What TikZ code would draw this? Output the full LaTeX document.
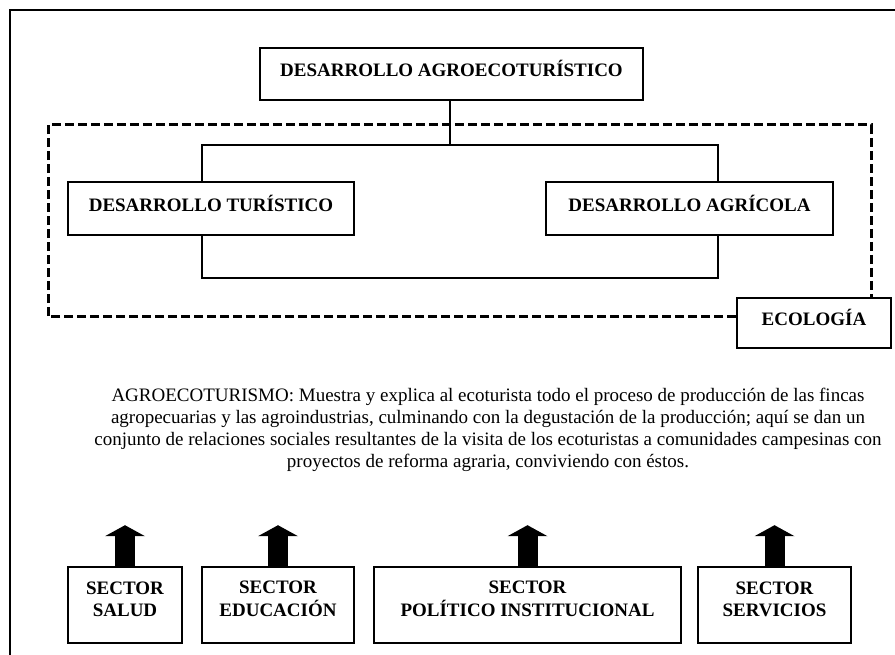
\documentclass[tikz,border=0pt]{standalone}
\usepackage{fontspec}
\setmainfont{Liberation Serif}
\usetikzlibrary{arrows.meta,calc}
\newcommand\twolines[2]{\raisebox{4pt}[\height][\depth]{\begin{tabular}{@{}c@{}}#1\\#2\end{tabular}}}
\begin{document}
\begin{tikzpicture}[x=1pt,y=-1pt,
  frame/.style={line width=2.2pt},
  box/.style={draw, line width=1.6pt, inner sep=0pt, align=center,
    font=\fontsize{19}{22}\selectfont\bfseries},
  onebox/.style={box, text height=14pt, text depth=8pt},
  link/.style={line width=1.6pt},
  zone/.style={line width=3pt, dash pattern=on 9pt off 4pt},
  uparrow/.style={line width=20pt, -{Triangle[width=40pt,length=11pt,line width'=0pt]}},
  para/.style={align=center, inner sep=0pt, font=\fontsize{19}{22}\selectfont}]
\useasboundingbox (0,0) rectangle (895,655);
\draw[frame] (10,700) -- (10,10) -- (950,10);

\node[onebox, minimum width=383pt, minimum height=52pt] (top) at (451.5,74) {DESARROLLO AGROECOTURÍSTICO};
\node[onebox, minimum width=286pt, minimum height=53pt] (tur) at (211,208.5) {DESARROLLO TURÍSTICO};
\node[onebox, minimum width=287pt, minimum height=53pt] (agr) at (689.5,208.5) {DESARROLLO AGRÍCOLA};
\node[onebox, minimum width=154pt, minimum height=50pt] (eco) at (814,323) {ECOLOGÍA};

\coordinate (j1) at (450,145);
\coordinate (j2) at (450,278);
\coordinate (L) at (202,0);
\coordinate (R) at (718,0);

\draw[link] (top.south -| j1) -- (j1);
\draw[link] (tur.north -| L) |- (j1 -| R) -- (agr.north -| R);
\draw[link] (tur.south -| L) |- (j2 -| R) -- (agr.south -| R);

\draw[zone] (eco.west |- 0,317) -- (48,317) -- (48,125) -- (871,125) -- (eco.north -| 871,0);

\node[para] (txt) at (488,430) {AGROECOTURISMO: Muestra y explica al ecoturista todo el proceso de producción de las fincas\\
agropecuarias y las agroindustrias, culminando con la degustación de la producción; aquí se dan un\\
conjunto de relaciones sociales resultantes de la visita de los ecoturistas a comunidades campesinas con\\
proyectos de reforma agraria, conviviendo con éstos.};

\node[box, minimum width=114pt, minimum height=76pt] (s1) at (125,605) {\twolines{SECTOR}{SALUD}};
\node[box, minimum width=152pt, minimum height=76pt] (s2) at (278,605) {\twolines{SECTOR}{EDUCACIÓN}};
\node[box, minimum width=307pt, minimum height=76pt] (s3) at (527.5,605) {\twolines{SECTOR}{POLÍTICO INSTITUCIONAL}};
\node[box, minimum width=153pt, minimum height=76pt] (s4) at (774.5,605) {\twolines{SECTOR}{SERVICIOS}};

\foreach \s in {s1,s2,s3,s4}{
  \coordinate (\s tip) at ($(\s.north)+(0,-41)$);
  \draw[uparrow] (\s.north) -- (\s tip);
}
\end{tikzpicture}
\end{document}
